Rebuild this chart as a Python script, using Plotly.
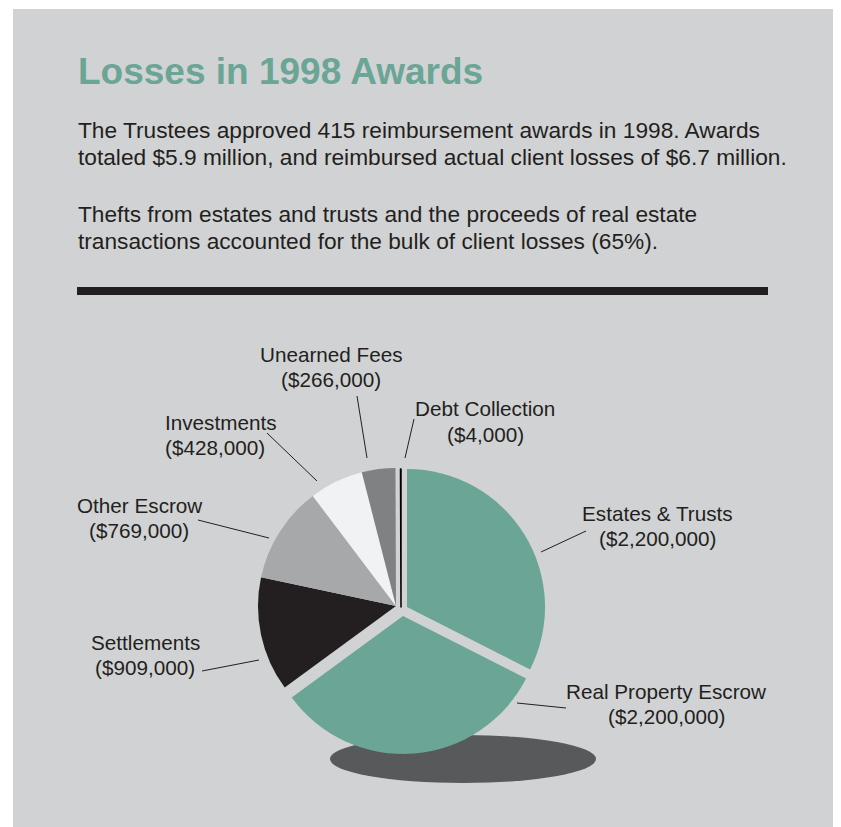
import plotly.graph_objects as go

# page has an 8px body margin; figure sized to fit the 841x827 window
OFF = 8
W, H = 841 - OFF, 827 - OFF

# ---- data ----
categories = ["Estates & Trusts", "Real Property Escrow", "Settlements",
              "Other Escrow", "Investments", "Unearned Fees", "Debt Collection"]
losses = [2200000, 2200000, 909000, 769000, 428000, 266000, 4000]
value_labels = ["($2,200,000)", "($2,200,000)", "($909,000)", "($769,000)",
                "($428,000)", "($266,000)", "($4,000)"]

title_text = "Losses in 1998 Awards"
body_lines = [
    "The Trustees approved 415 reimbursement awards in 1998. Awards",
    "totaled $5.9 million, and reimbursed actual client losses of $6.7 million.",
    "Thefts from estates and trusts and the proceeds of real estate",
    "transactions accounted for the bulk of client losses (65%).",
]

# ---- styles / layout ----
GREEN = "#6aa595"
BG = "#d1d2d4"
INK = "#231f20"
FONT = "Liberation Sans, Arial"
slice_colors = [GREEN, GREEN, "#231f20", "#a7a8aa", "#f1f2f4", "#808183", "#000000"]
line_w = [0, 0, 0, 0, 0, 0, 1.5]

def px(x):
    return (x - OFF) / W

def py(y):
    return 1 - (y - OFF) / H

# pie geometry (page pixels): radius and per-slice-group centres (exploded slices)
R = 138
groups = [
    ({2, 3, 4, 5}, (396, 606)),   # body of the pie
    ({0}, (407, 607)),            # Estates & Trusts, exploded
    ({1}, (403, 616)),            # Real Property Escrow, exploded
    ({6}, (401, 607)),            # Debt Collection sliver
]

fig = go.Figure()
for members, (cx, cy) in groups:
    cols = [c if i in members else "rgba(0,0,0,0)" for i, c in enumerate(slice_colors)]
    lws = [w if i in members else 0 for i, w in enumerate(line_w)]
    fig.add_trace(go.Pie(
        labels=categories, values=losses, sort=False, direction="clockwise",
        rotation=0, textinfo="none", hoverinfo="label+value",
        marker=dict(colors=cols, line=dict(color="#000000", width=lws)),
        domain=dict(x=[px(cx - R), px(cx + R)], y=[py(cy + R), py(cy - R)]),
        showlegend=False,
    ))

shapes = [
    dict(type="rect", xref="paper", yref="paper", x0=px(13), x1=px(840),
         y0=py(830), y1=py(9), fillcolor=BG, line=dict(width=0), layer="below"),
    dict(type="rect", xref="paper", yref="paper", x0=px(77), x1=px(768),
         y0=py(295), y1=py(287), fillcolor=INK, line=dict(width=0), layer="below"),
    dict(type="circle", xref="paper", yref="paper", x0=px(330), x1=px(596),
         y0=py(783), y1=py(735), fillcolor="#58595b", line=dict(width=0), layer="below"),
]

# leader lines (outer end, inner end) in page pixels
leaders = {
    "Estates & Trusts": ((586, 531), (541, 552)),
    "Real Property Escrow": ((566, 708), (517, 703)),
    "Settlements": ((202, 671), (259, 660)),
    "Other Escrow": ((198, 520), (269, 538)),
    "Investments": ((267, 433), (317, 481)),
    "Unearned Fees": ((357, 396), (367, 458)),
    "Debt Collection": ((414, 419), (405, 458)),
}
for (x0, y0), (x1, y1) in leaders.values():
    shapes.append(dict(type="line", xref="paper", yref="paper",
                       x0=px(x0), y0=py(y0), x1=px(x1), y1=py(y1),
                       line=dict(color=INK, width=1)))

# label positions: (x, y_line1, y_line2, anchor)
label_pos = {
    "Estates & Trusts": (657, 513, 538, "center"),
    "Real Property Escrow": (666, 691, 716, "center"),
    "Settlements": (145, 642, 667, "center"),
    "Other Escrow": (139, 506, 530, "center"),
    "Investments": (163, 422, 447, "left"),
    "Unearned Fees": (331, 354, 380, "center"),
    "Debt Collection": (485, 408, 434, "center"),
}

annotations = [dict(text="<b>%s</b>" % title_text, x=px(76), y=py(72), xref="paper",
                    yref="paper", xanchor="left", yanchor="middle", showarrow=False,
                    font=dict(family=FONT, size=37, color=GREEN))]
body_y = [130, 157, 214, 241]
for t, yy in zip(body_lines, body_y):
    annotations.append(dict(text=t, x=px(76), y=py(yy), xref="paper", yref="paper",
                            xanchor="left", yanchor="middle", showarrow=False,
                            font=dict(family=FONT, size=22.7, color=INK)))
for cat, val in zip(categories, value_labels):
    x, y1, y2, anc = label_pos[cat]
    for t, yy in ((cat, y1), (val, y2)):
        annotations.append(dict(text=t, x=px(x), y=py(yy), xref="paper", yref="paper",
                                xanchor=anc, yanchor="middle", showarrow=False,
                                font=dict(family=FONT, size=20.7, color=INK)))

fig.update_layout(width=W, height=H, margin=dict(l=0, r=0, t=0, b=0),
                  paper_bgcolor="white", plot_bgcolor="white",
                  shapes=shapes, annotations=annotations)
fig.write_html("out.html")
